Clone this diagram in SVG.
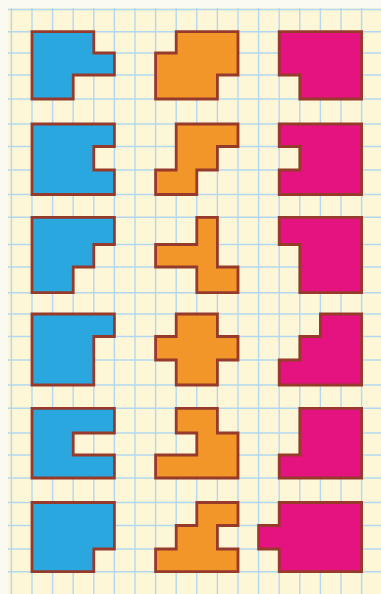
<svg xmlns="http://www.w3.org/2000/svg" width="381" height="594" viewBox="0 0 381 594">
<style>
.grid line{stroke:#b3d8ee;stroke-width:1.4}
.s{stroke:#963a2c;stroke-width:2.8;stroke-linejoin:miter}
.b{fill:#2ba7df}
.o{fill:#f39629}
.m{fill:#e5137f}
</style>
<rect x="0" y="0" width="381" height="594" fill="#fbfaf0"/>
<rect x="8" y="8" width="373" height="586" fill="#fdf7d8"/>
<g class="grid">
<line x1="11.4" y1="8" x2="11.4" y2="594"/><line x1="32" y1="8" x2="32" y2="594"/><line x1="52.6" y1="8" x2="52.6" y2="594"/><line x1="73.2" y1="8" x2="73.2" y2="594"/><line x1="93.8" y1="8" x2="93.8" y2="594"/><line x1="114.4" y1="8" x2="114.4" y2="594"/><line x1="135" y1="8" x2="135" y2="594"/><line x1="155.6" y1="8" x2="155.6" y2="594"/><line x1="176.2" y1="8" x2="176.2" y2="594"/><line x1="196.8" y1="8" x2="196.8" y2="594"/><line x1="217.4" y1="8" x2="217.4" y2="594"/><line x1="238" y1="8" x2="238" y2="594"/><line x1="258.6" y1="8" x2="258.6" y2="594"/><line x1="279.2" y1="8" x2="279.2" y2="594"/><line x1="299.8" y1="8" x2="299.8" y2="594"/><line x1="320.4" y1="8" x2="320.4" y2="594"/><line x1="341" y1="8" x2="341" y2="594"/><line x1="361.6" y1="8" x2="361.6" y2="594"/>
<line x1="8" y1="9.5" x2="381" y2="9.5"/><line x1="8" y1="31.7" x2="381" y2="31.7"/><line x1="8" y1="53" x2="381" y2="53"/><line x1="8" y1="75" x2="381" y2="75"/><line x1="8" y1="99" x2="381" y2="99"/><line x1="8" y1="124" x2="381" y2="124"/><line x1="8" y1="146.5" x2="381" y2="146.5"/><line x1="8" y1="170" x2="381" y2="170"/><line x1="8" y1="194.5" x2="381" y2="194.5"/><line x1="8" y1="217.3" x2="381" y2="217.3"/><line x1="8" y1="244.5" x2="381" y2="244.5"/><line x1="8" y1="267" x2="381" y2="267"/><line x1="8" y1="292.7" x2="381" y2="292.7"/><line x1="8" y1="314" x2="381" y2="314"/><line x1="8" y1="336.5" x2="381" y2="336.5"/><line x1="8" y1="360" x2="381" y2="360"/><line x1="8" y1="385" x2="381" y2="385"/><line x1="8" y1="408.3" x2="381" y2="408.3"/><line x1="8" y1="433" x2="381" y2="433"/><line x1="8" y1="455" x2="381" y2="455"/><line x1="8" y1="478" x2="381" y2="478"/><line x1="8" y1="502.5" x2="381" y2="502.5"/><line x1="8" y1="525.5" x2="381" y2="525.5"/><line x1="8" y1="549" x2="381" y2="549"/><line x1="8" y1="571.7" x2="381" y2="571.7"/>
</g>
<g id="connectors"></g>
<g id="blue-1"><polygon class="s b" points="32,31.7 93.8,31.7 93.8,53 114.4,53 114.4,75 73.2,75 73.2,99 32,99"/></g>
<g id="orange-1"><polygon class="s o" points="176.2,31.7 238,31.7 238,75 217.4,75 217.4,99 155.6,99 155.6,53 176.2,53"/></g>
<g id="magenta-1"><polygon class="s m" points="279.2,31.7 361.6,31.7 361.6,99 299.8,99 299.8,75 279.2,75"/></g>
<g id="blue-2"><polygon class="s b" points="32,124 114.4,124 114.4,146.5 93.8,146.5 93.8,170 114.4,170 114.4,194.5 32,194.5"/></g>
<g id="orange-2"><polygon class="s o" points="176.2,124 238,124 238,146.5 217.4,146.5 217.4,170 196.8,170 196.8,194.5 155.6,194.5 155.6,170 176.2,170"/></g>
<g id="magenta-2"><polygon class="s m" points="279.2,124 361.6,124 361.6,194.5 279.2,194.5 279.2,170 299.8,170 299.8,146.5 279.2,146.5"/></g>
<g id="blue-3"><polygon class="s b" points="32,217.3 114.4,217.3 114.4,244.5 93.8,244.5 93.8,267 73.2,267 73.2,292.7 32,292.7"/></g>
<g id="orange-3"><polygon class="s o" points="196.8,217.3 217.4,217.3 217.4,267 238,267 238,292.7 196.8,292.7 196.8,267 155.6,267 155.6,244.5 196.8,244.5"/></g>
<g id="magenta-3"><polygon class="s m" points="279.2,217.3 361.6,217.3 361.6,292.7 299.8,292.7 299.8,244.5 279.2,244.5"/></g>
<g id="blue-4"><polygon class="s b" points="32,314 114.4,314 114.4,336.5 93.8,336.5 93.8,385 32,385"/></g>
<g id="orange-4"><polygon class="s o" points="176.2,314 217.4,314 217.4,336.5 238,336.5 238,360 217.4,360 217.4,385 176.2,385 176.2,360 155.6,360 155.6,336.5 176.2,336.5"/></g>
<g id="magenta-4"><polygon class="s m" points="320.4,314 361.6,314 361.6,385 279.2,385 279.2,360 299.8,360 299.8,336.5 320.4,336.5"/></g>
<g id="blue-5"><polygon class="s b" points="32,408.3 114.4,408.3 114.4,433 73.2,433 73.2,455 114.4,455 114.4,478 32,478"/></g>
<g id="orange-5"><polygon class="s o" points="176.2,408.3 217.4,408.3 217.4,433 238,433 238,478 155.6,478 155.6,455 196.8,455 196.8,433 176.2,433"/></g>
<g id="magenta-5"><polygon class="s m" points="299.8,408.3 361.6,408.3 361.6,478 279.2,478 279.2,455 299.8,455"/></g>
<g id="blue-6"><polygon class="s b" points="32,502.5 114.4,502.5 114.4,549 93.8,549 93.8,571.7 32,571.7"/></g>
<g id="orange-6"><polygon class="s o" points="196.8,502.5 238,502.5 238,525.5 217.4,525.5 217.4,549 238,549 238,571.7 155.6,571.7 155.6,549 176.2,549 176.2,525.5 196.8,525.5"/></g>
<g id="magenta-6"><polygon class="s m" points="279.2,502.5 361.6,502.5 361.6,571.7 279.2,571.7 279.2,549 258.6,549 258.6,525.5 279.2,525.5"/></g>
</svg>
